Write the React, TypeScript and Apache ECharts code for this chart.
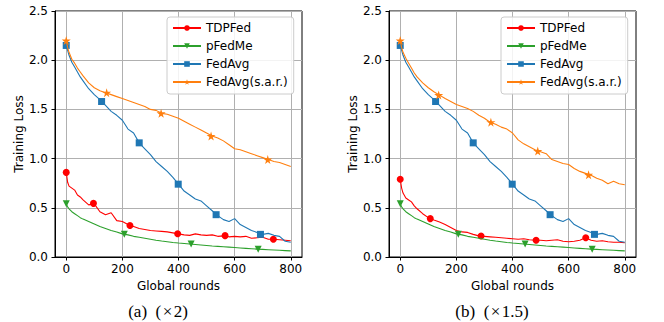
import React, { useEffect, useRef } from 'react';
import * as echarts from 'echarts';

// x positions (global rounds) of the sampled curve points
const ROUNDS = [0, 5, 10, 20, 30, 40, 50, 60, 80, 100, 120, 140, 160, 180, 200, 220, 240, 260, 280, 300, 320, 340, 360, 380, 400, 420, 440, 460, 480, 500, 520, 540, 560, 580, 600, 620, 640, 660, 680, 700, 720, 740, 760, 780, 800];

// panel (a) ×2
const TDPFED_A = [0.86, 0.76, 0.72, 0.70, 0.68, 0.63, 0.61, 0.58, 0.53, 0.54, 0.46, 0.43, 0.45, 0.37, 0.36, 0.33, 0.31, 0.29, 0.28, 0.27, 0.265, 0.26, 0.255, 0.245, 0.235, 0.225, 0.22, 0.235, 0.225, 0.22, 0.225, 0.21, 0.215, 0.205, 0.21, 0.205, 0.21, 0.19, 0.195, 0.2, 0.18, 0.18, 0.175, 0.17, 0.165];
const PFEDME_A = [0.54, 0.51, 0.49, 0.46, 0.44, 0.42, 0.40, 0.385, 0.36, 0.335, 0.31, 0.29, 0.27, 0.255, 0.235, 0.225, 0.21, 0.2, 0.19, 0.18, 0.17, 0.162, 0.155, 0.148, 0.142, 0.137, 0.132, 0.127, 0.122, 0.117, 0.112, 0.108, 0.104, 0.1, 0.096, 0.092, 0.088, 0.084, 0.08, 0.077, 0.074, 0.071, 0.068, 0.065, 0.062];
const FEDAVG_A = [2.15, 2.10, 2.05, 1.98, 1.93, 1.88, 1.83, 1.79, 1.71, 1.65, 1.60, 1.54, 1.48, 1.44, 1.39, 1.30, 1.26, 1.16, 1.10, 1.04, 0.97, 0.92, 0.87, 0.81, 0.74, 0.67, 0.63, 0.59, 0.57, 0.52, 0.47, 0.42, 0.38, 0.36, 0.39, 0.33, 0.30, 0.27, 0.25, 0.23, 0.24, 0.22, 0.21, 0.16, 0.15];
const SAR_A = [2.20, 2.13, 2.08, 2.01, 1.97, 1.92, 1.88, 1.84, 1.77, 1.72, 1.69, 1.67, 1.65, 1.63, 1.61, 1.59, 1.57, 1.55, 1.53, 1.50, 1.49, 1.46, 1.45, 1.43, 1.41, 1.38, 1.35, 1.32, 1.29, 1.26, 1.23, 1.21, 1.18, 1.14, 1.10, 1.09, 1.07, 1.05, 1.03, 1.01, 0.99, 0.97, 0.96, 0.94, 0.92];

// panel (b) ×1.5
const TDPFED_B = [0.79, 0.70, 0.65, 0.60, 0.58, 0.56, 0.52, 0.49, 0.44, 0.40, 0.375, 0.355, 0.33, 0.30, 0.27, 0.255, 0.25, 0.23, 0.215, 0.21, 0.205, 0.2, 0.195, 0.19, 0.185, 0.18, 0.185, 0.175, 0.17, 0.17, 0.165, 0.17, 0.175, 0.16, 0.155, 0.16, 0.17, 0.195, 0.17, 0.16, 0.165, 0.155, 0.15, 0.15, 0.145];
const PFEDME_B = [0.54, 0.51, 0.49, 0.46, 0.44, 0.42, 0.40, 0.385, 0.36, 0.335, 0.31, 0.29, 0.27, 0.255, 0.235, 0.225, 0.21, 0.2, 0.19, 0.18, 0.17, 0.162, 0.155, 0.148, 0.142, 0.137, 0.132, 0.127, 0.122, 0.117, 0.112, 0.108, 0.104, 0.1, 0.096, 0.092, 0.088, 0.084, 0.08, 0.077, 0.074, 0.071, 0.068, 0.065, 0.062];
const FEDAVG_B = [2.15, 2.10, 2.05, 1.98, 1.93, 1.88, 1.83, 1.79, 1.71, 1.65, 1.60, 1.54, 1.48, 1.44, 1.39, 1.30, 1.26, 1.16, 1.10, 1.04, 0.97, 0.92, 0.87, 0.81, 0.74, 0.67, 0.63, 0.59, 0.57, 0.52, 0.47, 0.42, 0.38, 0.36, 0.39, 0.33, 0.30, 0.27, 0.25, 0.23, 0.24, 0.22, 0.21, 0.16, 0.15];
const SAR_B = [2.20, 2.13, 2.08, 2.02, 1.97, 1.92, 1.87, 1.83, 1.77, 1.72, 1.68, 1.645, 1.61, 1.58, 1.55, 1.53, 1.51, 1.48, 1.44, 1.41, 1.37, 1.35, 1.32, 1.30, 1.26, 1.19, 1.15, 1.12, 1.09, 1.07, 1.05, 0.99, 0.97, 0.95, 0.94, 0.90, 0.87, 0.85, 0.83, 0.80, 0.78, 0.745, 0.77, 0.745, 0.735];

// marker positions (rounds) and values
const MK_TDPFED_A_X = [0, 97, 227, 397, 566, 738];
const MK_TDPFED_A_Y = [0.86, 0.545, 0.32, 0.237, 0.217, 0.18];
const MK_PFEDME_A_X = [0, 207, 445, 684];
const MK_PFEDME_A_Y = [0.54, 0.23, 0.131, 0.079];
const MK_FEDAVG_A_X = [0, 126, 260, 399, 534, 692];
const MK_FEDAVG_A_Y = [2.15, 1.58, 1.16, 0.74, 0.43, 0.23];
const MK_SAR_A_X = [0, 144, 338, 516, 718];
const MK_SAR_A_Y = [2.2, 1.67, 1.46, 1.23, 0.99];

const MK_TDPFED_B_X = [0, 107, 288, 484, 661];
const MK_TDPFED_B_Y = [0.79, 0.39, 0.213, 0.17, 0.196];
const MK_PFEDME_B_X = [0, 207, 445, 684];
const MK_PFEDME_B_Y = [0.54, 0.23, 0.131, 0.079];
const MK_FEDAVG_B_X = [0, 126, 260, 399, 534, 692];
const MK_FEDAVG_B_Y = [2.15, 1.58, 1.16, 0.74, 0.43, 0.23];
const MK_SAR_B_X = [0, 137, 323, 490, 671];
const MK_SAR_B_Y = [2.2, 1.646, 1.37, 1.077, 0.835];

const NAMES = ['TDPFed', 'pFedMe', 'FedAvg', 'FedAvg(s.a.r.)'];
const X_TICKS = [0, 200, 400, 600, 800];
const CAPTIONS = ['(a)  (\u200a\u00d7\u200a2)', '(b)  (\u200a\u00d7\u200a1.5)'];
const Y_NAME = 'Training Loss';
const X_NAME = 'Global rounds';

const COLORS = ['#ff0000', '#2ca02c', '#1f77b4', '#ff7f0e'];
const TRI_DOWN = 'path://M0,0L10,0L5,9Z';
const STAR = 'path://M50,0L61,35L98,35L68,57L79,91L50,70L21,91L32,57L2,35L39,35Z';
const SYMBOLS = ['circle', TRI_DOWN, 'rect', STAR];
const SYM_SIZES = [7, 7, 7, 9];

const FONT = 'DejaVu Sans';

function zip(xs: number[], ys: number[]) {
  return xs.map((x, i) => [x, ys[i]]);
}

export default function App() {
  const ref = useRef<HTMLDivElement>(null);

  useEffect(() => {
    document.body.style.margin = '0';
    if (!ref.current) return;
    const chart = echarts.init(ref.current, undefined, { renderer: 'svg' });

    const panels = [
      { lines: [TDPFED_A, PFEDME_A, FEDAVG_A, SAR_A], mx: [MK_TDPFED_A_X, MK_PFEDME_A_X, MK_FEDAVG_A_X, MK_SAR_A_X], my: [MK_TDPFED_A_Y, MK_PFEDME_A_Y, MK_FEDAVG_A_Y, MK_SAR_A_Y] },
      { lines: [TDPFED_B, PFEDME_B, FEDAVG_B, SAR_B], mx: [MK_TDPFED_B_X, MK_PFEDME_B_X, MK_FEDAVG_B_X, MK_SAR_B_X], my: [MK_TDPFED_B_Y, MK_PFEDME_B_Y, MK_FEDAVG_B_Y, MK_SAR_B_Y] },
    ];

    const series: any[] = [];
    panels.forEach((p, g) => {
      p.lines.forEach((ys, i) => {
        series.push({
          type: 'line',
          name: NAMES[i],
          xAxisIndex: g,
          yAxisIndex: g,
          data: zip(ROUNDS, ys),
          showSymbol: false,
          symbol: SYMBOLS[i],
          symbolSize: SYM_SIZES[i],
          lineStyle: { color: COLORS[i], width: 1.1 },
          itemStyle: { color: COLORS[i] },
          z: 2 + i,
          silent: true,
        });
        series.push({
          type: 'scatter',
          name: NAMES[i] + ' markers ' + g,
          xAxisIndex: g,
          yAxisIndex: g,
          data: zip(p.mx[i], p.my[i]),
          symbol: SYMBOLS[i],
          symbolSize: SYM_SIZES[i],
          itemStyle: { color: COLORS[i], opacity: 1 },
          z: 2 + i,
          silent: true,
        });
      });
    });

    const gridLefts = [55, 389];
    const legendLefts = [167, 501];
    const captionX = [158, 492];

    const option: any = {
      animation: false,
      grid: gridLefts.map((l) => ({
        left: l, top: 11, width: 247, height: 246,
        show: true, borderColor: '#000', borderWidth: 1, backgroundColor: 'transparent',
      })),
      xAxis: [0, 1].map((g) => ({
        type: 'value', gridIndex: g, min: -40, max: 840,
        name: X_NAME, nameLocation: 'middle', nameGap: 19,
        nameTextStyle: { fontSize: 12, color: '#000', fontFamily: FONT },
        axisLine: { show: true, onZero: false, lineStyle: { color: '#000', width: 1 } },
        axisTick: { show: true, customValues: X_TICKS, length: 3.5, lineStyle: { color: '#000' } },
        axisLabel: { customValues: X_TICKS, fontSize: 12, color: '#000', margin: 6, fontFamily: FONT },
        splitLine: { show: true, lineStyle: { color: '#b0b0b0', width: 1 } },
      })),
      yAxis: [0, 1].map((g) => ({
        type: 'value', gridIndex: g, min: 0, max: 2.5, interval: 0.5,
        name: Y_NAME, nameLocation: 'middle', nameGap: 29,
        nameTextStyle: { fontSize: 12, color: '#000', fontFamily: FONT },
        axisLine: { show: true, onZero: false, lineStyle: { color: '#000', width: 1 } },
        axisTick: { show: true, length: 3.5, lineStyle: { color: '#000' } },
        axisLabel: { fontSize: 12, color: '#000', margin: 7, fontFamily: FONT, formatter: (v: number) => v.toFixed(1) },
        splitLine: { show: true, lineStyle: { color: '#b0b0b0', width: 1 } },
      })),
      legend: legendLefts.map((l) => ({
        data: NAMES,
        orient: 'vertical',
        left: l, top: 17,
        itemWidth: 28, itemHeight: 7, itemGap: 6,
        padding: [5, 6, 6, 5],
        backgroundColor: 'rgba(255,255,255,0.85)',
        borderColor: '#cccccc', borderWidth: 1, borderRadius: 3,
        selectedMode: false,
        textStyle: { fontSize: 12, color: '#000', fontFamily: FONT },
      })),
      graphic: CAPTIONS.map((t, i) => ({
        type: 'text',
        x: captionX[i],
        y: 311,
        style: {
          text: t,
          font: '17px "Liberation Serif"',
          fill: '#000',
          align: 'center',
          verticalAlign: 'middle',
          textAlign: 'center',
          textVerticalAlign: 'middle',
        },
      })),
      series,
    };

    chart.setOption(option);
    return () => chart.dispose();
  }, []);

  return <div ref={ref} style={{ width: 664, height: 322, position: 'absolute', left: 0, top: 0, background: '#fff' }} />;
}
